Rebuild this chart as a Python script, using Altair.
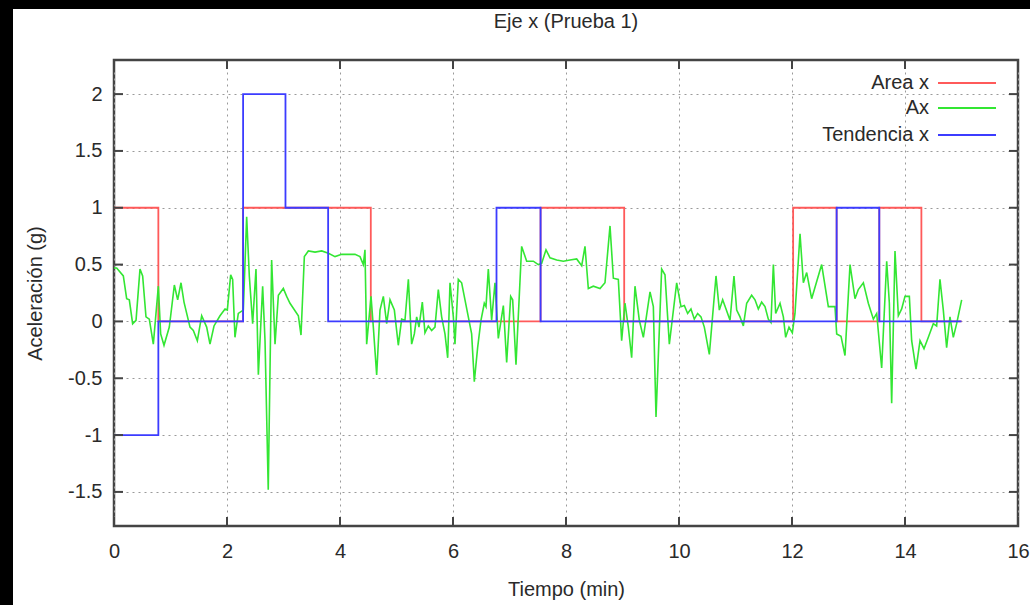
import altair as alt
import pandas as pd

FONT = "Liberation Sans"
FS = 20

# ---- data -------------------------------------------------------------
chart_title = "Eje x (Prueba 1)"
series_names = ["Area x", "Ax", "Tendencia x"]
series_colors = ["#ff5a5a", "#33e633", "#3c3cff"]

area_t = [0.0, 0.785, 2.285, 4.545, 7.55, 9.03, 12.02, 12.79, 13.545, 14.29, 15.0]
area_v = [1, 0, 1, 0, 1, 0, 1, 0, 1, 0, 0]

trend_t = [0.0, 0.785, 2.285, 3.035, 3.79, 6.77, 7.55, 12.79, 13.545, 15.0]
trend_v = [-1, 0, 2, 1, 0, 1, 0, 1, 0, 0]

ax_t = [0.0, 0.047, 0.165, 0.224, 0.271, 0.33, 0.39, 0.46, 0.507, 0.566, 0.625, 0.696,
        0.785, 0.826, 0.885, 0.979, 1.068, 1.127, 1.186, 1.239, 1.345, 1.404, 1.475,
        1.552, 1.64, 1.699, 1.77, 1.876, 1.965, 2.006, 2.065, 2.1, 2.141, 2.2, 2.289,
        2.348, 2.395, 2.454, 2.513, 2.555, 2.631, 2.673, 2.73, 2.79, 2.85, 2.909, 2.997,
        3.056, 3.115, 3.263, 3.31, 3.369, 3.44, 3.558, 3.676, 3.794, 3.912, 4.03, 4.147,
        4.265, 4.354, 4.413, 4.442, 4.472, 4.549, 4.59, 4.649, 4.708, 4.767, 4.826,
        4.885, 4.962, 5.032, 5.091, 5.15, 5.21, 5.268, 5.316, 5.357, 5.398, 5.457,
        5.504, 5.563, 5.622, 5.681, 5.74, 5.799, 5.858, 5.906, 5.947, 6.006, 6.035,
        6.094, 6.153, 6.212, 6.271, 6.33, 6.377, 6.436, 6.495, 6.554, 6.584, 6.625,
        6.684, 6.743, 6.802, 6.891, 6.95, 7.021, 7.056, 7.115, 7.215, 7.304, 7.422,
        7.51, 7.569, 7.646, 7.717, 7.835, 7.953, 8.071, 8.189, 8.278, 8.336, 8.395,
        8.484, 8.602, 8.69, 8.779, 8.838, 8.926, 8.985, 9.044, 9.103, 9.162, 9.221,
        9.298, 9.369, 9.487, 9.546, 9.593, 9.693, 9.752, 9.829, 9.959, 10.035, 10.094,
        10.153, 10.212, 10.271, 10.33, 10.389, 10.448, 10.537, 10.655, 10.714, 10.773,
        10.832, 10.903, 10.973, 11.021, 11.08, 11.139, 11.198, 11.286, 11.345, 11.404,
        11.463, 11.522, 11.581, 11.628, 11.67, 11.711, 11.788, 11.847, 11.888, 11.947,
        12.006, 12.053, 12.142, 12.201, 12.26, 12.348, 12.525, 12.643, 12.761, 12.791,
        12.867, 12.938, 13.027, 13.115, 13.174, 13.263, 13.351, 13.44, 13.499, 13.587,
        13.676, 13.723, 13.764, 13.823, 13.882, 13.941, 14.0, 14.077, 14.118, 14.195,
        14.266, 14.336, 14.413, 14.501, 14.56, 14.619, 14.678, 14.737, 14.796, 14.855,
        14.914, 15.003]
ax_v = [0.47, 0.47, 0.40, 0.20, 0.19, -0.02, 0.01, 0.46, 0.40, 0.04, 0.02, -0.20,
        0.31, -0.11, -0.21, -0.05, 0.32, 0.19, 0.34, 0.17, -0.05, -0.08, -0.17,
        0.05, -0.05, -0.20, -0.04, 0.05, 0.11, 0.10, 0.41, 0.37, -0.14, 0.07, 0.10,
        0.92, 0.40, -0.02, 0.46, -0.47, 0.31, -0.17, -1.48, 0.54, -0.20, 0.23, 0.29,
        0.22, 0.16, 0.05, -0.12, 0.57, 0.62, 0.61, 0.62, 0.60, 0.57, 0.59, 0.59,
        0.59, 0.57, 0.50, 0.63, -0.20, 0.22, -0.05, -0.47, 0.10, 0.22, -0.02,
        0.19, 0.10, -0.21, 0.02, 0.01, 0.37, -0.20, -0.11, 0.04, -0.05, 0.17,
        -0.10, -0.04, -0.08, -0.05, 0.28, 0.04, -0.11, -0.32, 0.34, 0.04, -0.20,
        0.37, 0.34, 0.19, 0.04, -0.11, -0.53, -0.23, 0.01, 0.16, 0.13, 0.46,
        0.01, 0.34, -0.15, 0.14, -0.36, 0.22, 0.19, -0.38, 0.66, 0.53, 0.53,
        0.50, 0.51, 0.63, 0.56, 0.54, 0.53, 0.54, 0.55, 0.49, 0.66, 0.29,
        0.31, 0.29, 0.34, 0.84, 0.38, 0.37, -0.17, 0.16, -0.05, -0.32, 0.31,
        0.01, -0.14, 0.26, 0.13, -0.84, 0.46, 0.41, -0.20, 0.34, 0.13, 0.14,
        0.07, 0.11, 0.02, 0.07, 0.04, -0.05, -0.29, 0.40, 0.10, 0.19,
        0.11, 0.01, 0.40, 0.10, 0.04, -0.04, 0.16, 0.23, 0.19, 0.11,
        0.17, 0.13, 0.02, -0.01, 0.50, 0.07, 0.16, 0.04, -0.14, -0.05,
        -0.10, 0.07, 0.77, 0.34, 0.43, 0.20, 0.50, 0.13, 0.13, -0.11,
        -0.13, -0.30, 0.50, 0.20, 0.28, 0.34, 0.16, 0.02, 0.07, -0.41,
        0.53, 0.16, -0.72, 0.62, 0.05, 0.11, 0.22, 0.22, -0.17, -0.42,
        -0.17, -0.24, -0.14, -0.02, -0.04, 0.37, 0.10, -0.23, 0.04, -0.14,
        -0.02, 0.19]

x_ticks = [0, 2, 4, 6, 8, 10, 12, 14, 16]
y_ticks = [-1.5, -1, -0.5, 0, 0.5, 1, 1.5, 2]
x_domain = [0, 16]
y_domain = [-1.8, 2.3]

# ---- frames -------------------------------------------------------------
df_area = pd.DataFrame({"t": area_t, "v": area_v})
df_ax = pd.DataFrame({"t": ax_t, "v": ax_v})
df_trend = pd.DataFrame({"t": trend_t, "v": trend_v})
df_xt = pd.DataFrame({"t": x_ticks})
df_yt = pd.DataFrame({"v": y_ticks})

W, H = 904, 466
TXT = "#2a2a2a"

x_axis = alt.Axis(values=x_ticks, grid=True, gridDash=[2, 4], gridColor="#9a9a9a",
                  gridWidth=1, domain=False, ticks=False, labelFont=FONT,
                  labelFontSize=FS, labelColor=TXT, labelPadding=15,
                  labelFlush=False, labelOverlap=False,
                  labelExpr="datum.value + ''",
                  title="Tiempo (min)", titleFont=FONT, titleFontSize=FS,
                  titleFontWeight="normal", titleColor=TXT, titlePadding=18)
y_axis = alt.Axis(values=y_ticks, grid=True, gridDash=[2, 4], gridColor="#9a9a9a",
                  gridWidth=1, domain=False, ticks=False, labelFont=FONT,
                  labelFontSize=FS, labelColor=TXT, labelPadding=12,
                  labelFlush=False, labelOverlap=False,
                  labelExpr="datum.value + ''",
                  title="Aceleración (g)", titleFont=FONT, titleFontSize=FS,
                  titleFontWeight="normal", titleColor=TXT, titlePadding=22)

xs = alt.Scale(domain=x_domain, nice=False, zero=False)
ys = alt.Scale(domain=y_domain, nice=False, zero=False)

base_area = alt.Chart(df_area).mark_line(
    interpolate="step-after", color=series_colors[0], strokeWidth=1.8
).encode(x=alt.X("t:Q", scale=xs, axis=x_axis), y=alt.Y("v:Q", scale=ys, axis=y_axis))

line_ax = alt.Chart(df_ax).mark_line(color=series_colors[1], strokeWidth=1.6).encode(
    x=alt.X("t:Q", scale=xs), y=alt.Y("v:Q", scale=ys))

line_trend = alt.Chart(df_trend).mark_line(
    interpolate="step-after", color=series_colors[2], strokeWidth=1.8
).encode(x=alt.X("t:Q", scale=xs), y=alt.Y("v:Q", scale=ys))

# inward ticks on all four sides (gnuplot style)
tick_col = "#444444"
xt_bot = alt.Chart(df_xt).mark_rule(color=tick_col, strokeWidth=2).encode(
    x=alt.X("t:Q", scale=xs), y=alt.value(H - 9), y2=alt.value(H))
xt_top = alt.Chart(df_xt).mark_rule(color=tick_col, strokeWidth=2).encode(
    x=alt.X("t:Q", scale=xs), y=alt.value(0), y2=alt.value(9))
yt_left = alt.Chart(df_yt).mark_rule(color=tick_col, strokeWidth=2).encode(
    y=alt.Y("v:Q", scale=ys), x=alt.value(0), x2=alt.value(9))
yt_right = alt.Chart(df_yt).mark_rule(color=tick_col, strokeWidth=2).encode(
    y=alt.Y("v:Q", scale=ys), x=alt.value(W - 9), x2=alt.value(W))

# legend (gnuplot style: label right-aligned, sample line to the right)
legend_layers = []
for i, (name, col) in enumerate(zip(series_names, series_colors)):
    ly = [23, 48, 75][i]
    d = pd.DataFrame({"name": [name]})
    legend_layers.append(
        alt.Chart(d).mark_text(align="right", baseline="middle", font=FONT,
                               fontSize=FS, color=TXT).encode(
            text="name:N", x=alt.value(815), y=alt.value(ly)))
    legend_layers.append(
        alt.Chart(d).mark_rule(color=col, strokeWidth=1.8).encode(
            x=alt.value(824), x2=alt.value(882), y=alt.value(ly)))

# chart title as a text mark (keeps it clear of the screenshot edges)
title_layer = alt.Chart(pd.DataFrame({"txt": [chart_title]})).mark_text(
    align="center", baseline="middle", font=FONT, fontSize=FS, color=TXT
).encode(text="txt:N", x=alt.value(W / 2), y=alt.value(-38))

# black screenshot edges (top & left)
edge = pd.DataFrame({"k": [0]})
edge_left = alt.Chart(edge).mark_rect(color="black").encode(
    x=alt.value(-114), x2=alt.value(-101), y=alt.value(-60), y2=alt.value(545))
edge_top = alt.Chart(edge).mark_rect(color="black").encode(
    x=alt.value(-114), x2=alt.value(916), y=alt.value(-60), y2=alt.value(-51))

chart = alt.layer(
    base_area, line_ax, line_trend, xt_bot, xt_top, yt_left, yt_right,
    *legend_layers, title_layer, edge_left, edge_top
).properties(
    width=W, height=H,
    autosize=alt.AutoSizeParams(type="none"),
    padding={"left": 114, "top": 60, "right": 12, "bottom": 79},
    background="white",
).configure_view(stroke="#444444", strokeWidth=2.5)

chart.save("out.html", embed_options={"renderer": "svg", "actions": False})
